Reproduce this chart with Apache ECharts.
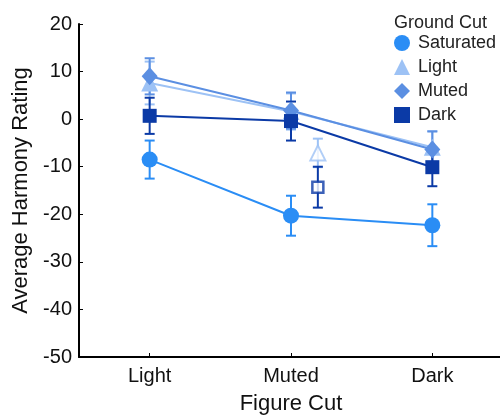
<!DOCTYPE html>
<html style="height: 100%">
<head>
<meta charset="utf-8">
<script src="https://cdn.jsdelivr.net/npm/echarts@6/dist/echarts.min.js"></script>
</head>
<body style="height: 100%; margin: 0; background: #fff">
<div id="container" style="width: 500px; height: 416px"></div>
<script type="text/javascript">
var categories = ['Light', 'Muted', 'Dark'];
var groups = ['Saturated', 'Light', 'Muted', 'Dark'];
var yTicks = [-50, -40, -30, -20, -10, 0, 10, 20];

var saturatedMean = [-8.5, -20.3, -22.3];
var saturatedErr = [4.0, 4.2, 4.4];
var lightMean = [7.6, 1.6, -5.9];
var lightErr = [4.5, 3.8, 3.4];
var mutedMean = [9.0, 1.8, -6.4];
var mutedErr = [3.8, 3.8, 3.8];
var darkMean = [0.7, -0.4, -10.1];
var darkErr = [3.8, 4.1, 4.0];

// the two unfilled points just right of "Muted"
var openX = 2.19;
var openLightMean = -7.1;
var openLightErr = 3.0;
var openDarkMean = -14.3;
var openDarkErr = 4.3;

var colors = {
    Saturated: '#2a8df5',
    Light: '#9dc2f5',
    Muted: '#5b8fe2',
    Dark: '#0b3aa6'
};
var symbols = { Saturated: 'circle', Light: 'triangle', Muted: 'diamond', Dark: 'rect' };
var sizes = { Saturated: 16, Light: 17, Muted: [16, 18], Dark: 14 };
var means = { Saturated: saturatedMean, Light: lightMean, Muted: mutedMean, Dark: darkMean };
var errs = { Saturated: saturatedErr, Light: lightErr, Muted: mutedErr, Dark: darkErr };

function errorBar(color) {
    return function (params, api) {
        var x = api.value(0);
        var lo = api.coord([x, api.value(1)]);
        var hi = api.coord([x, api.value(2)]);
        var w = 5;
        var st = { stroke: color, lineWidth: 2 };
        return {
            type: 'group',
            children: [
                { type: 'line', shape: { x1: lo[0], y1: lo[1], x2: hi[0], y2: hi[1] }, style: st },
                { type: 'line', shape: { x1: lo[0] - w, y1: lo[1], x2: lo[0] + w, y2: lo[1] }, style: st },
                { type: 'line', shape: { x1: hi[0] - w, y1: hi[1], x2: hi[0] + w, y2: hi[1] }, style: st }
            ]
        };
    };
}

var series = [];
groups.forEach(function (g) {
    var m = means[g], e = errs[g];
    series.push({
        type: 'custom',
        name: g + ' err',
        renderItem: errorBar(colors[g]),
        data: m.map(function (v, i) { return [i + 1, v - e[i], v + e[i]]; }),
        z: 2
    });
    series.push({
        type: 'line',
        name: g,
        data: m.map(function (v, i) { return [i + 1, v]; }),
        symbol: symbols[g],
        symbolSize: sizes[g],
        showAllSymbol: true,
        lineStyle: { color: colors[g], width: 2 },
        itemStyle: { color: colors[g] },
        z: 3
    });
});

series.push({
    type: 'custom',
    renderItem: errorBar(colors.Light),
    data: [[openX, openLightMean - openLightErr, openLightMean + openLightErr]],
    z: 2
});
series.push({
    type: 'custom',
    renderItem: errorBar(colors.Dark),
    data: [[openX, openDarkMean - openDarkErr, openDarkMean + openDarkErr]],
    z: 2
});
series.push({
    type: 'scatter',
    data: [[openX, openLightMean]],
    symbol: 'triangle',
    symbolSize: 15,
    itemStyle: { color: '#fff', borderColor: colors.Light, borderWidth: 2 },
    z: 3
});
series.push({
    type: 'scatter',
    data: [[openX, openDarkMean]],
    symbol: 'rect',
    symbolSize: 11,
    itemStyle: { color: '#fff', borderColor: colors.Dark, borderWidth: 2.5 },
    z: 3
});

var font = 'Liberation Sans, Arial, sans-serif';
var myChart = echarts.init(document.getElementById('container'));
var option = {
    animation: false,
    textStyle: { fontFamily: font },
    title: {
        text: 'Ground Cut',
        left: 389, top: 8,
        textStyle: { fontSize: 18, fontWeight: 'normal', color: '#222', fontFamily: font, lineHeight: 20 }
    },
    legend: {
        orient: 'vertical',
        left: 394, top: 34,
        padding: 0,
        itemWidth: 16, itemHeight: 16, itemGap: 6,
        textStyle: { fontSize: 18, lineHeight: 16, color: '#222', fontFamily: font, padding: [0, 0, 0, 3] },
        data: groups.map(function (g) {
            return { name: g, icon: symbols[g], itemStyle: { color: colors[g] } };
        })
    },
    grid: { left: 79, right: -3, top: 24, bottom: 59, containLabel: false, outerBoundsMode: 'none' },
    xAxis: {
        type: 'value',
        min: 0.5, max: 3.5,
        name: 'Figure Cut',
        nameLocation: 'middle',
        nameGap: 36,
        nameTextStyle: { fontSize: 22, color: '#111' },
        axisLine: { onZero: false, lineStyle: { color: '#000', width: 2 } },
        axisTick: { inside: true, length: 4, customValues: [1, 2, 3], lineStyle: { color: '#000' } },
        axisLabel: {
            customValues: [1, 2, 3],
            fontSize: 20, color: '#111', margin: 9,
            formatter: function (v) { return categories[Math.round(v) - 1]; }
        },
        splitLine: { show: false }
    },
    yAxis: {
        type: 'value',
        min: yTicks[0], max: yTicks[yTicks.length - 1], interval: 10,
        name: 'Average Harmony Rating',
        nameLocation: 'middle',
        nameGap: 42,
        nameTextStyle: { fontSize: 22, color: '#111' },
        axisLine: { show: true, lineStyle: { color: '#000', width: 2 } },
        axisTick: { show: true, inside: true, length: 4, lineStyle: { color: '#000' } },
        axisLabel: { fontSize: 20, color: '#111', margin: 7 },
        splitLine: { show: false }
    },
    series: series
};
myChart.setOption(option);
</script>
</body>
</html>
